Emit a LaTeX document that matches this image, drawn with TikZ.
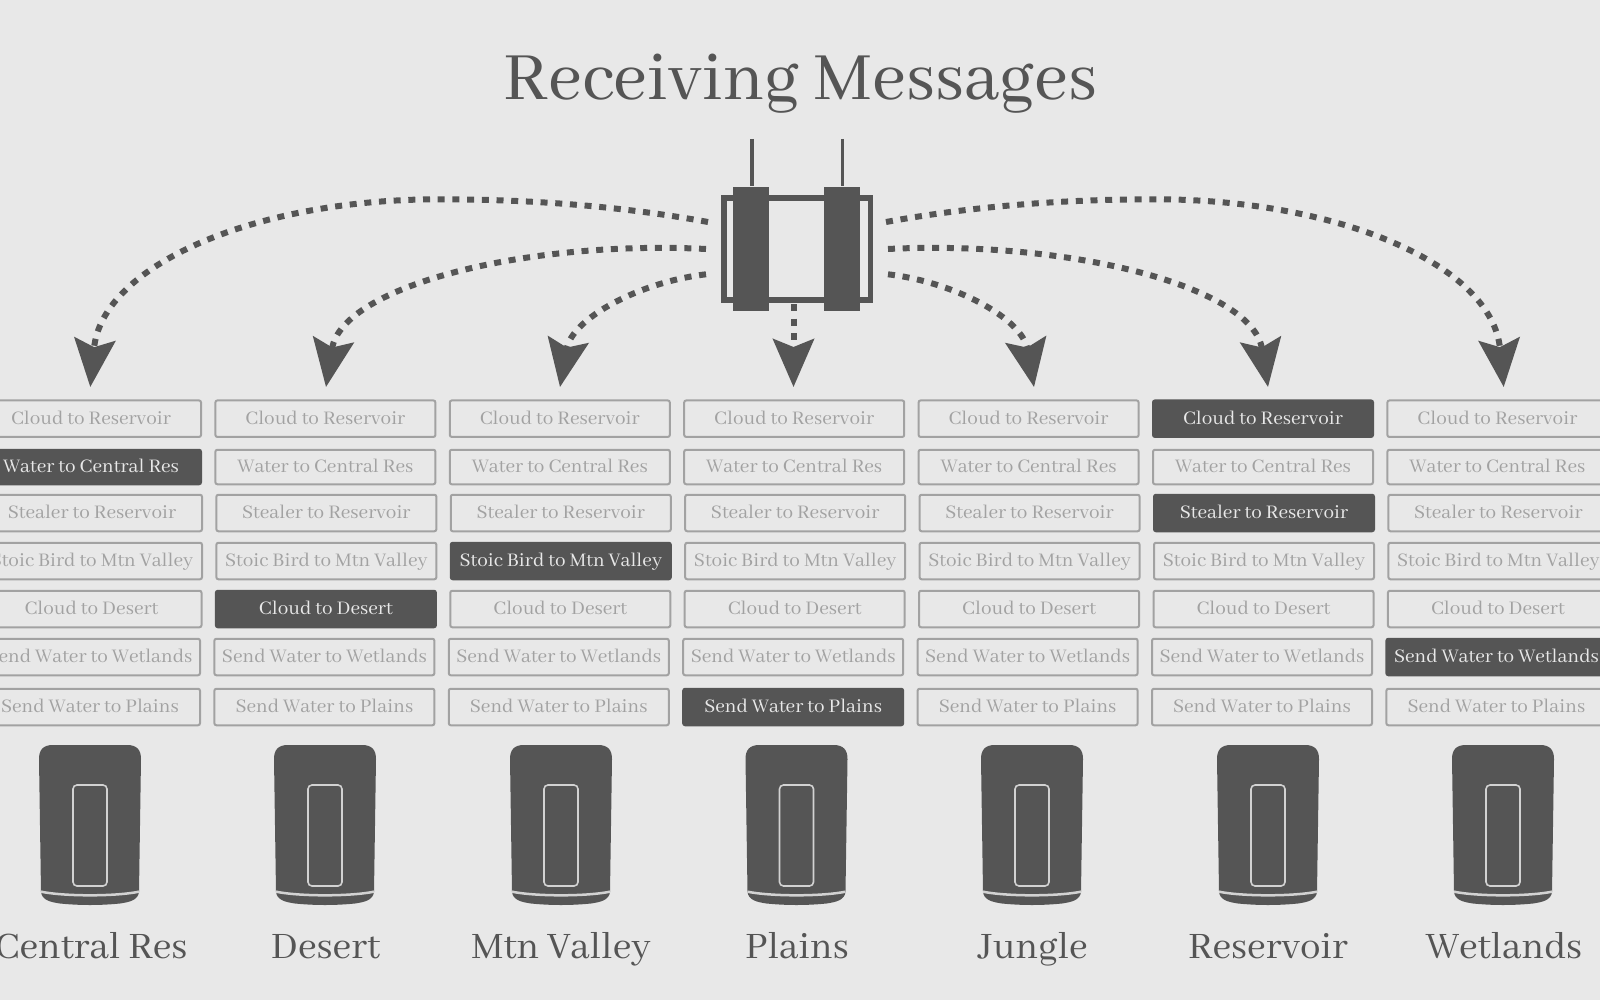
\documentclass[tikz,border=0pt]{standalone}
\usepackage{fontspec}
\setmainfont{Abhaya Libre}
\usetikzlibrary{arrows.meta, positioning}
\definecolor{paper}{HTML}{E8E8E8}
\definecolor{slate}{HTML}{555555}
\definecolor{faded}{HTML}{A2A2A2}

\tikzset{
  msgbox/.style={draw=faded, line width=2pt, rounded corners=2pt, text=faded, minimum width=220pt, inner sep=0pt, text height=15.5pt, text depth=4.5pt, font=\fontsize{21.1}{21.1}\selectfont},
  msgon/.style={fill=slate, draw=slate, text=paper},
  cell 1-2/.style={msgon}, cell 2-5/.style={msgon}, cell 3-4/.style={msgon}, cell 4-7/.style={msgon},
  cell 6-1/.style={msgon}, cell 6-3/.style={msgon}, cell 7-6/.style={msgon},
  sitelabel/.style={text=slate, anchor=base, font=\fontsize{41}{41}\selectfont},
  hubbar/.style={fill=slate, minimum width=36pt, minimum height=124.5pt, inner sep=0pt},
  flow/.style={draw=slate, line width=6pt, dash pattern=on 7pt off 7.7pt, -{Stealth[length=48pt, width=41pt, inset=8pt]}}
}

\begin{document}
\begin{tikzpicture}[x=1pt, y=-1pt]
  \fill[paper] (0,0) rectangle (1600,1000);
  \useasboundingbox (0,0) rectangle (1600,1000);

  \node[text=slate, anchor=base, font=\fontsize{74.4}{74.4}\selectfont] (title) at (800.5,100) {Receiving Messages};

  % Radio in the middle
  \node[draw=slate, line width=5.3pt, minimum width=146.7pt, minimum height=102.1pt, inner sep=0pt] (hub) at (797.3,249) {};
  \node[hubbar] (barl) at (751.3,248.9) {};
  \node[hubbar] (barr) at (842,248.9) {};
  \coordinate (antl) at (752,139);
  \coordinate (antr) at (842.3,139);
  \draw[slate, line width=3.5pt] (antl) -- (barl.north -| antl);
  \draw[slate, line width=3.5pt] (antr) -- (barr.north -| antr);

  % Columns of messages, a device and a name under each
  \foreach \c/\cx/\dx/\lx/\cname in {1/91/90/91/Central Res, 2/325.4/325/325.5/Desert, 3/559.8/561/561/Mtn Valley, 4/794.2/796.5/797/Plains, 5/1028.6/1032/1033/Jungle, 6/1263/1268/1268/Reservoir, 7/1497.4/1503/1504/Wetlands} {
    \foreach \r/\ry/\rh/\rdx/\rtext in {1/418.7/36.5/0/Cloud to Reservoir, 2/467/34.5/0/Water to Central Res, 3/513/36.5/1/Stealer to Reservoir, 4/561/36.5/1/Stoic Bird to Mtn Valley, 5/609/36.5/0.5/Cloud to Desert, 6/657/36.5/-1/Send Water to Wetlands, 7/707/36.5/-1/Send Water to Plains} {
      \node[msgbox, minimum height=\rh pt, cell \c-\r/.try] (msg\c-\r) at (\cx+\rdx,\ry) {\rtext};
    }
    \begin{scope}[shift={(\dx,0)}]
      \fill[slate] (-51,759) .. controls (-51,750) and (-47,745) .. (-37,745) -- (37,745) .. controls (47,745) and (51,750) .. (51,759) -- (49,892) .. controls (48,900) and (40,902) .. (30,903.5) .. controls (10,905.5) and (-10,905.5) .. (-30,903.5) .. controls (-40,902) and (-48,900) .. (-49,892) -- cycle;
      \draw[paper!85!slate, line width=2.5pt] (-49,891.7) .. controls (-25,896.5) and (25,896.5) .. (49,891.7);
      \draw[paper!85!slate, line width=1.6pt, rounded corners=4pt] (-17,785) rectangle (17,886);
    \end{scope}
    \node[sitelabel] (site\c) at (\lx,958) {\cname};
  }

  % Ends of the dotted arrows
  \coordinate (outa) at (708,222);
  \coordinate (outb) at (706,249);
  \coordinate (outc) at (706,274.3);
  \coordinate (outd) at (793.5,304);
  \coordinate (oute) at (888,274.3);
  \coordinate (outf) at (888,249);
  \coordinate (outg) at (886,222);
  \coordinate (tipa) at (90.3,387);
  \coordinate (tipb) at (326,387);
  \coordinate (tipc) at (560,387);
  \coordinate (tipd) at (793.5,387);
  \coordinate (tipe) at (1034,387);
  \coordinate (tipf) at (1268,387);
  \coordinate (tipg) at (1503.7,387);

  \draw[flow] (outa) .. controls (620,206) and (530,199.3) .. (439,199.3) .. controls (255,199.3) and (102,265) .. (tipa);
  \draw[flow] (outb) .. controls (530,240) and (342,285) .. (tipb);
  \draw[flow] (outc) .. controls (640,282) and (572,318) .. (tipc);
  \draw[flow] (outd) -- (tipd);
  \draw[flow] (oute) .. controls (954,282) and (1022,318) .. (tipe);
  \draw[flow] (outf) .. controls (1064,240) and (1252,285) .. (tipf);
  \draw[flow] (outg) .. controls (974,206) and (1064,199.3) .. (1155,199.3) .. controls (1339,199.3) and (1492,265) .. (tipg);
\end{tikzpicture}
\end{document}
